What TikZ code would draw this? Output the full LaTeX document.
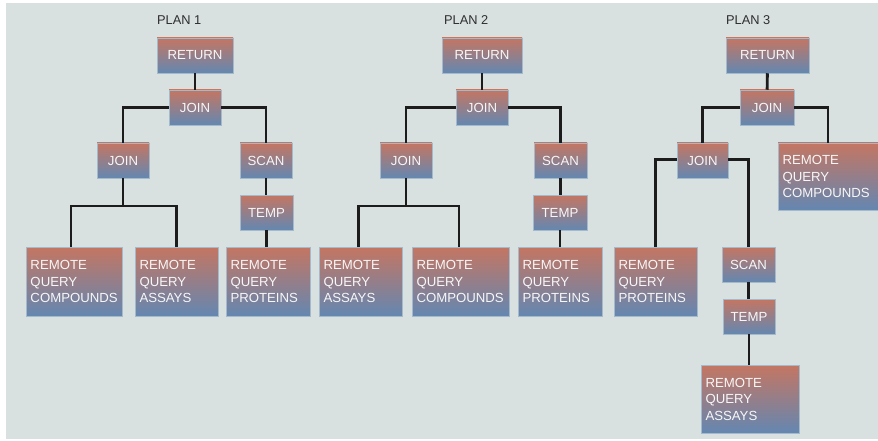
\documentclass[tikz,border=0pt]{standalone}
\usepackage{fontspec}
\setmainfont{Liberation Sans}
\definecolor{bg}{HTML}{D8E0E0}
\definecolor{boxtop}{HTML}{C47662}
\definecolor{boxbot}{HTML}{6487B1}
\definecolor{boxedge}{HTML}{A3B9CC}
\definecolor{wirecol}{HTML}{1C1C1C}
\definecolor{titlecol}{HTML}{2E2E2E}
\tikzset{
  opbox/.style={rectangle, top color=boxtop, bottom color=boxbot, draw=boxedge,
    line width=0.5pt, text=white!94!gray, font=\fontsize{13.2}{16.5}\selectfont,
    minimum height=35pt, inner sep=0pt},
  leafbox/.style={opbox, minimum height=69pt, inner xsep=4.5pt, inner ysep=0pt, align=left},
  wire/.style={draw=wirecol, line width=2.9pt},
  plantitle/.style={anchor=west, text=titlecol, font=\fontsize{12.8}{15}\selectfont, inner sep=0pt}
}
\begin{document}
\begin{tikzpicture}[x=1pt,y=-1pt]
  % page and panel
  \useasboundingbox (0,0) rectangle (878,441);
  \fill[white] (0,0) rectangle (878,441);
  \fill[bg] (6,3) rectangle (878,439);

  % ---------- plan 1 ----------
  \node[plantitle] (t1) at (157,20) {PLAN 1};
  \node[opbox, minimum width=76pt] (r1) at (195,55.5) {RETURN};
  \node[opbox, minimum width=52pt] (j1) at (195,107.5) {JOIN};
  \node[opbox, minimum width=52pt] (j1b) at (123,160.5) {JOIN};
  \node[opbox, minimum width=52pt] (s1) at (266,160.5) {SCAN};
  \node[opbox, minimum width=53pt] (tp1) at (266.5,212.5) {TEMP};
  \node[leafbox, text width=87pt] (c1) at (74,281.5) {REMOTE\\QUERY\\COMPOUNDS};
  \node[leafbox, text width=74pt] (a1) at (176.5,281.5) {REMOTE\\QUERY\\ASSAYS};
  \node[leafbox, text width=75pt] (p1) at (268,281.5) {REMOTE\\QUERY\\PROTEINS};
  \coordinate (m1) at (123,206);

  \draw[wire] (r1) -- (j1);
  \draw[wire] (j1.west) -| (j1b.north);
  \draw[wire] (j1.east) -| (s1.north);
  \draw[wire] (j1b.south) -- (m1);
  \draw[wire] ([xshift=-3pt]c1.north) |- (m1) -| (a1.north);
  \draw[wire] (s1.south) -- (s1.south |- tp1.north);
  \draw[wire] (tp1.south) -- (tp1.south |- p1.north);

  % ---------- plan 2 ----------
  \node[plantitle] (t2) at (444,20) {PLAN 2};
  \node[opbox, minimum width=80pt] (r2) at (482,55.5) {RETURN};
  \node[opbox, minimum width=52pt] (j2) at (482,107.5) {JOIN};
  \node[opbox, minimum width=52pt] (j2b) at (406,160.5) {JOIN};
  \node[opbox, minimum width=53pt] (s2) at (560.5,160.5) {SCAN};
  \node[opbox, minimum width=54pt] (tp2) at (560,212.5) {TEMP};
  \node[leafbox, text width=74pt] (a2) at (360.5,281.5) {REMOTE\\QUERY\\ASSAYS};
  \node[leafbox, text width=88pt] (c2) at (460.5,281.5) {REMOTE\\QUERY\\COMPOUNDS};
  \node[leafbox, text width=75pt] (p2) at (560,281.5) {REMOTE\\QUERY\\PROTEINS};
  \coordinate (m2) at (406,206);

  \draw[wire] (r2) -- (j2);
  \draw[wire] (j2.west) -| (j2b.north);
  \draw[wire] (j2.east) -| (s2.north);
  \draw[wire] (j2b.south) -- (m2);
  \draw[wire] ([xshift=-2pt]a2.north) |- (m2) -| ([xshift=-1.5pt]c2.north);
  \draw[wire] (s2.south) -- (s2.south |- tp2.north);
  \draw[wire] (tp2.south) -- (tp2.south |- p2.north);

  % ---------- plan 3 ----------
  \node[plantitle] (t3) at (726,20) {PLAN 3};
  \node[opbox, minimum width=83pt] (r3) at (767.5,55.5) {RETURN};
  \node[opbox, minimum width=54pt] (j3) at (767,107.5) {JOIN};
  \node[opbox, minimum width=51pt] (j3b) at (702.5,160.5) {JOIN};
  \node[leafbox, minimum height=67pt, text width=91pt] (c3) at (828,176.5) {REMOTE\\QUERY\\COMPOUNDS};
  \node[leafbox, text width=74pt] (p3) at (655.5,281.5) {REMOTE\\QUERY\\PROTEINS};
  \node[opbox, minimum width=53pt] (s3) at (748.5,264.5) {SCAN};
  \node[opbox, minimum width=52pt] (tp3) at (749,316.5) {TEMP};
  \node[leafbox, minimum height=68pt, text width=89pt] (a3) at (750,399) {REMOTE\\QUERY\\ASSAYS};

  \draw[wire] (r3) -- (j3);
  \draw[wire] (j3.west) -| (j3b.north);
  \draw[wire] (j3.east) -| (c3.north);
  \draw[wire] ([yshift=1pt]j3b.west) -| (p3.north);
  \draw[wire] ([yshift=1pt]j3b.east) -| (s3.north);
  \draw[wire] (s3.south) -- (s3.south |- tp3.north);
  \draw[wire] (tp3.south) -- (tp3.south |- a3.north);
\end{tikzpicture}
\end{document}
